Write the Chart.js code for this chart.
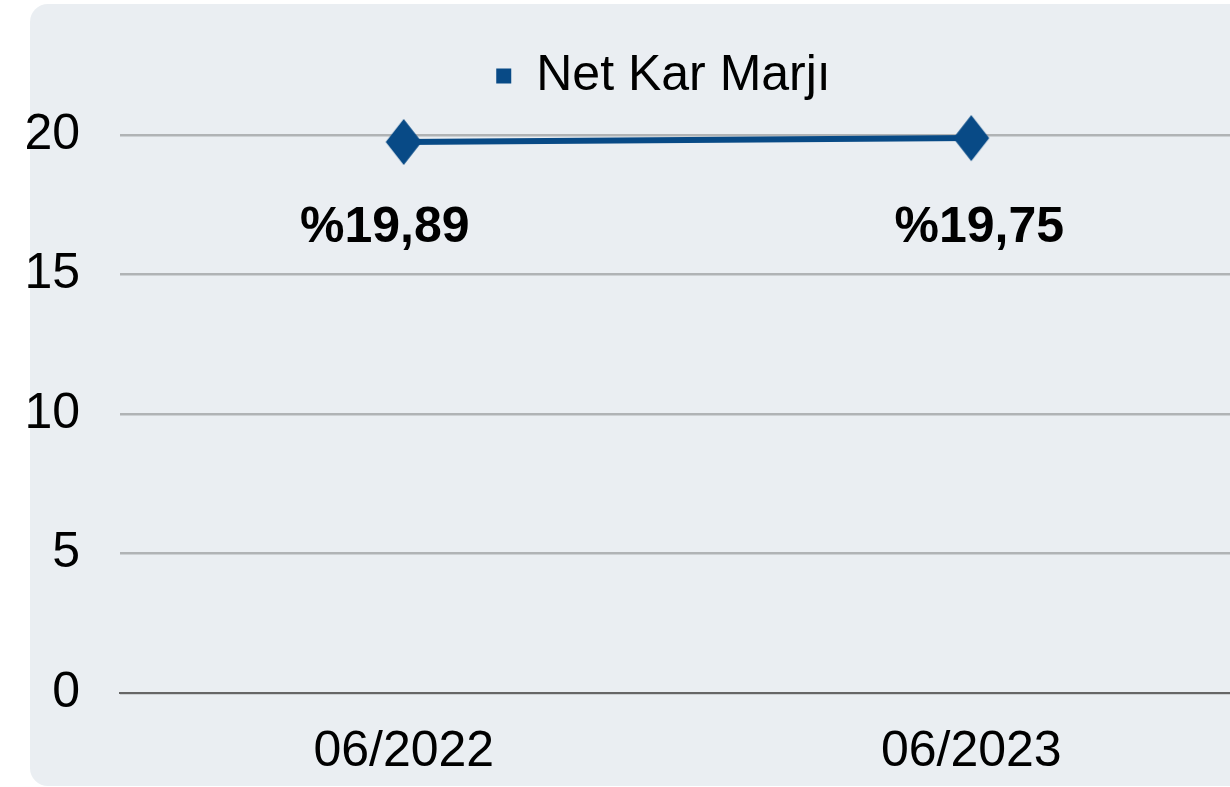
<!DOCTYPE html>
<html>
<head>
<meta charset="utf-8">
<script src="https://cdn.jsdelivr.net/npm/chart.js@4"></script>
<style>
  html, body { margin: 0; padding: 0; background: #fff; overflow: hidden; }
  #wrap { width: 1300px; height: 817px; }
</style>
</head>
<body>
<div id="wrap"><canvas id="graph" width="1300" height="817"></canvas></div>
<script>
// chart data
const categories = ['06/2022', '06/2023'];
const netKarMarji = [19.75, 19.89];
const valueLabels = ['%19,89', '%19,75'];
const yTicks = [0, 5, 10, 15, 20];

const BLUE = '#084A86';
const FONT = '"Liberation Sans", Arial, sans-serif';

// diamond marker, a bit taller than wide
let marker = document.createElement('canvas');
marker.width = 38;
marker.height = 48;
let mctx = marker.getContext('2d');
mctx.fillStyle = BLUE;
mctx.beginPath();
mctx.moveTo(19, 1);
mctx.lineTo(37, 24);
mctx.lineTo(19, 47);
mctx.lineTo(1, 24);
mctx.closePath();
mctx.fill();

// rounded grey panel behind everything
const panel = {
    id: 'panel',
    beforeDraw(chart) {
        let ctx = chart.ctx;
        ctx.save();
        ctx.fillStyle = '#EAEEF2';
        ctx.beginPath();
        ctx.roundRect(30, 4, chart.width, 782, 18);
        ctx.fill();
        ctx.restore();
    }
};

// move the legend a bit (it sits off-centre in the original)
const legendShift = {
    id: 'legendShift',
    afterLayout(chart) {
        let lg = chart.legend;
        lg.left += 36; lg.right += 36;
        lg.top -= 24; lg.bottom -= 24;
    }
};

// bold value labels under the points
const labelOffsets = [-19, 8];
const valueText = {
    id: 'valueText',
    afterDatasetsDraw(chart) {
        let ctx = chart.ctx;
        let meta = chart.getDatasetMeta(0);
        let y = chart.scales.y.getPixelForValue(20) + 93;
        ctx.save();
        ctx.font = 'bold 50px ' + FONT;
        ctx.fillStyle = '#000';
        ctx.textAlign = 'center';
        ctx.textBaseline = 'middle';
        meta.data.forEach((pt, i) => {
            ctx.fillText(valueLabels[i], pt.x + labelOffsets[i], y);
        });
        ctx.restore();
    }
};

let context = document.querySelector('#graph').getContext('2d');

new Chart(context, {
    type: 'line',
    data: {
        labels: categories,
        datasets: [{
            label: 'Net Kar Marjı',
            data: netKarMarji,
            borderColor: BLUE,
            backgroundColor: BLUE,
            borderWidth: 6,
            pointStyle: marker,
            clip: false,
            tension: 0
        }]
    },
    options: {
        responsive: false,
        animation: false,
        layout: { padding: { top: 65, right: 45, bottom: 6, left: 0 } },
        plugins: {
            legend: {
                labels: {
                    font: { family: FONT, size: 50 },
                    color: '#000',
                    boxWidth: 15,
                    boxHeight: 15,
                    padding: 10,
                    generateLabels(chart) {
                        let items = Chart.defaults.plugins.legend.labels.generateLabels(chart);
                        items.forEach(it => { it.lineWidth = 0; });
                        return items;
                    }
                }
            },
            tooltip: { enabled: false }
        },
        scales: {
            x: {
                offset: true,
                grid: { display: false, drawTicks: false },
                border: { color: '#666', width: 2 },
                ticks: { font: { family: FONT, size: 50 }, color: '#000', padding: 29 }
            },
            y: {
                min: 0,
                max: 20,
                afterFit(scale) { scale.width = 120; },
                afterBuildTicks(scale) { scale.ticks = yTicks.map(v => ({ value: v })); },
                grid: { color: '#B0B3B5', lineWidth: 2.5, drawTicks: false },
                border: { display: false },
                ticks: { font: { family: FONT, size: 50 }, color: '#000', padding: 40 }
            }
        }
    },
    plugins: [panel, legendShift, valueText]
});
</script>
</body>
</html>
